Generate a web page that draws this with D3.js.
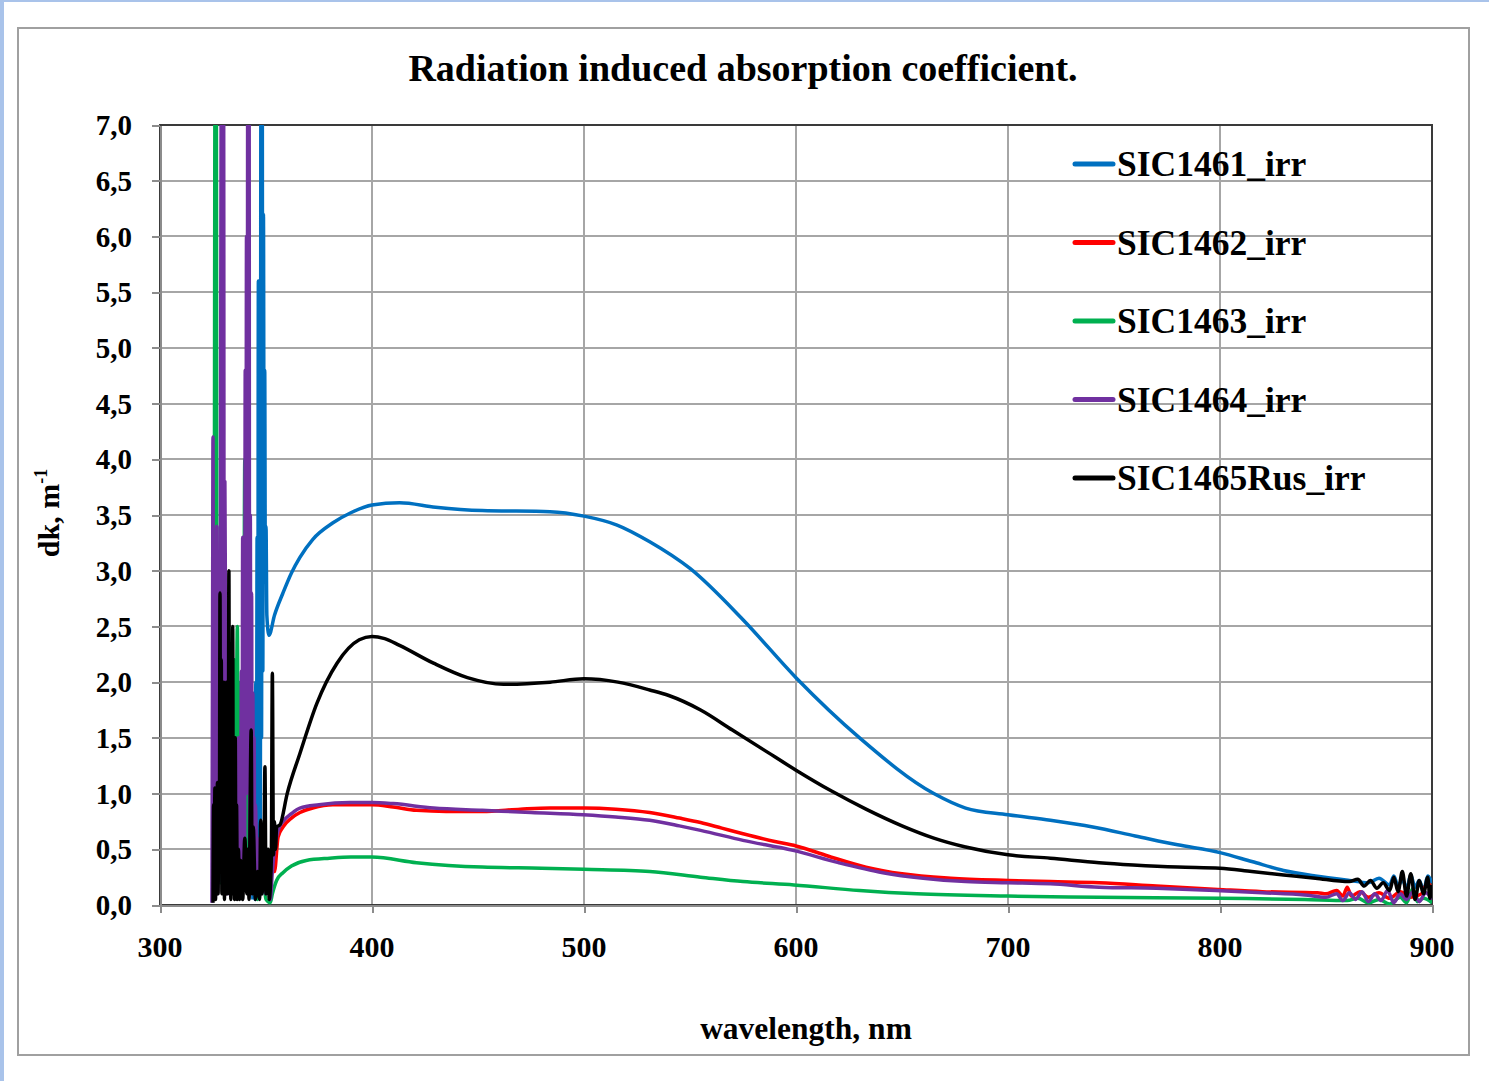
<!DOCTYPE html>
<meta charset="utf-8">
<style>
body { margin: 0; background: #fff; }
text { font-family: "Liberation Serif", "Times New Roman", serif; font-weight: bold; fill: #000; }
.grid line { stroke: #a6a6a6; stroke-width: 2; shape-rendering: crispEdges; }
.axis path, .axis line { stroke: #8c8c8c; stroke-width: 2; shape-rendering: crispEdges; }
</style>
<body>
<script src="https://d3js.org/d3.v7.min.js"></script>
<script>

// chart values (wavelength nm, dk m^-1)
var seriesNames = ["SIC1461_irr", "SIC1462_irr", "SIC1463_irr", "SIC1464_irr", "SIC1465Rus_irr"];
var seriesColors = ["#0070c0", "#ff0000", "#00b050", "#7030a0", "#000000"];

var sic1461 = [[343.8,0.05],[344,1.9],[344.3,0.1],[344.6,1.1],[344.9,0.05],[345.2,2.0],[345.5,0.2],[345.8,3.3],[346.1,0.3],
  [346.4,5.6],[346.7,0.8],[347,4.5],[347.3,0.4],[347.6,7.5],[347.9,1.5],[348.2,8],[348.5,2.1],[348.8,6.2],[349.1,3.6],
  [349.4,4.8],[349.7,2.9],[350,3.4],[350.4,2.6],[351.4,2.42],[354,2.6],[358,2.8],[362,2.98],[366,3.12],[372,3.28],[381.6,3.43],
  [390,3.52],[400,3.59],[413,3.61],[430,3.57],[452,3.54],[484,3.53],[500,3.49],[515.6,3.41],[531,3.26],[550,3.02],
  [575,2.56],[600,2.04],[630,1.5],[665,1.0],[680,0.87],[700,0.81],[720,0.76],[740,0.7],[760,0.62],[780,0.54],[800,0.47],
  [815,0.39],[830,0.31],[845,0.26],[861,0.22],[870,0.2],[875,0.24],[880,0.18],[882,0.26],[884,0.17],[886,0.23],[888,0.15],
  [890,0.27],[892,0.16],[894,0.22],[896,0.13],[898,0.26],[900,0.2]];

var sic1462 = [[350,0.1],[351,0.35],[352,0.1],[353,0.45],[354,0.3],[355.7,0.61],[358,0.7],[362,0.78],[366,0.83],[372,0.87],
  [381.6,0.9],[400,0.9],[410,0.88],[421,0.85],[435,0.84],[452,0.84],[470,0.86],[484,0.87],[500,0.87],[515,0.86],
  [531,0.83],[545,0.78],[555,0.74],[565,0.69],[575,0.64],[590,0.57],[600,0.53],[615,0.44],[633,0.34],[650,0.28],[673,0.24],
  [700,0.22],[720,0.21],[743,0.2],[770,0.17],[799,0.14],[820,0.12],[846,0.11],[850,0.1],[855,0.13],[858,0.08],[860,0.16],
  [862,0.08],[866,0.12],[870,0.07],[875,0.11],[880,0.06],[885,0.12],[890,0.07],[895,0.1],[898,0.2],[900,0.12]];

var sic1463 = [[325,0.05],[325.5,1.5],[326,8],[326.5,8],[327,0.5],[328,2.6],[328.5,0.2],[329,1.5],[330,0.3],[331,2.0],[332,0.2],
  [333,1.2],[334,0.3],[335,2.2],[335.5,0.4],[336.5,2.5],[337,0.6],[338,2.0],[339,0.3],[339.5,1.8],[340,4.0],[340.5,0.5],
  [341,1.4],[342,0.2],[343,0.9],[344,0.1],[345,0.6],[346,0.05],[348,0.4],[350,0.05],[352,0.02],[353,0.1],[355,0.22],[358,0.29],
  [362,0.35],[369,0.4],[380,0.42],[390,0.43],[400,0.43],[421,0.38],[452,0.34],[480,0.33],[500,0.32],[531,0.3],[555,0.25],
  [575,0.21],[599,0.18],[630,0.13],[657,0.1],[700,0.08],[743,0.07],[800,0.06],[840,0.05],[860,0.04],[865,0.06],[870,0.02],
  [875,0.05],[880,0.01],[885,0.07],[888,0.02],[891,0.15],[893,0.03],[896,0.06],[900,0.02]];

var sic1464 = [[324.5,0.02],[324.8,2.4],[325,4.2],[325.3,0.5],[325.6,3.0],[325.9,0.2],[326.2,2.5],[326.5,0.3],[326.8,3.4],
  [327.1,0.1],[327.4,1.8],[327.7,0.2],[328,3.1],[328.3,0.6],[328.6,4.6],[329,8],[329.3,0.4],[329.6,5.2],[330,7.5],[330.3,1.2],
  [330.6,3.8],[331,2.2],[331.3,0.1],[331.6,1.6],[332,0.8],[332.5,0.1],[333,0.6],[334,0.2],[335,1.0],[336,0.3],[337,1.5],
  [338,0.4],[338.4,2.1],[338.7,0.3],[339,3.3],[339.3,0.6],[339.6,2.5],[339.9,0.2],[340.2,4.8],[340.5,1.0],[340.8,6.0],
  [341.1,1.2],[341.4,8],[341.7,1.0],[342,8],[342.3,0.4],[342.6,3.5],[342.9,0.2],[343.2,2.8],[343.5,0.1],[343.8,1.9],
  [344.1,0.2],[344.4,1.5],[344.7,0.1],[345,0.9],[346,0.1],[347,0.6],[348,0.1],[349,0.5],[350,0.1],[351,0.4],[352,0.05],
  [353,0.3],[354,0.5],[355.7,0.67],[358,0.75],[362,0.82],[366,0.87],[375,0.9],[389.6,0.92],[400,0.92],[410,0.91],[429,0.87],
  [452,0.85],[475,0.83],[499.6,0.81],[515,0.79],[531,0.76],[545,0.71],[555,0.67],[575,0.58],[598.6,0.49],[620,0.38],[641,0.29],
  [660,0.24],[680,0.21],[700,0.2],[720,0.19],[743,0.16],[770,0.15],[798,0.13],[820,0.11],[840,0.09],[850,0.07],[855,0.1],
  [858,0.04],[861,0.11],[864,0.05],[867,0.12],[870,0.03],[873,0.1],[876,0.04],[879,0.13],[882,0.02],[885,0.1],[888,0.05],
  [891,0.12],[894,0.03],[897,0.11],[900,0.05]];

var sic1465 = [[325,0.02],[325.3,0.9],[325.6,0.1],[325.9,1.05],[326.2,0.05],[326.5,1.0],[326.8,0.2],[327.1,1.1],[327.4,0.1],
  [327.7,0.95],[328,0.4],[328.3,2.8],[328.6,0.3],[328.9,2.2],[329.2,0.1],[329.5,1.6],[329.8,0.2],[330.1,2.0],[330.4,0.05],
  [330.7,1.4],[331,0.2],[331.3,2.0],[331.6,0.1],[331.9,1.2],[332.2,0.6],[332.5,3.0],[332.8,0.1],[333.1,2.2],[333.4,0.05],
  [333.7,1.0],[334,0.5],[334.3,2.5],[334.6,0.1],[334.9,1.1],[335.2,0.05],[335.5,1.5],[335.8,0.1],[336.1,0.9],[336.5,0.05],
  [337,0.5],[337.5,0.05],[338,0.4],[339,0.05],[340,0.6],[341,0.1],[341.5,0.5],[342,0.05],[343,1.57],[343.5,0.1],[344,0.7],
  [345,0.05],[346,0.3],[347,0.05],[347.5,0.76],[348,0.1],[349,0.4],[349.5,1.24],[350,0.1],[351,0.5],[351.5,0.05],[352.5,0.4],
  [353,2.08],[353.5,0.45],[354,0.75],[354.5,0.5],[355,0.7],[356.6,0.72],[360,1.0],[366,1.36],[374,1.81],[383.5,2.17],
  [394,2.38],[400,2.41],[406,2.39],[413,2.33],[429,2.17],[445,2.04],[462,1.98],[484,2.0],[500,2.03],[516,2.0],
  [531,1.93],[540,1.88],[555,1.75],[570,1.57],[585,1.39],[600,1.21],[617,1.02],[633,0.86],[650,0.71],[665,0.6],[680,0.52],
  [700,0.45],[720,0.42],[743,0.38],[759,0.36],[780,0.34],[800,0.33],[815,0.3],[830,0.27],[845,0.24],[861,0.21],[865,0.23],
  [868,0.17],[871,0.22],[874,0.15],[877,0.2],[880,0.13],[882,0.25],[884,0.12],[886,0.3],[888,0.08],[890,0.28],
  [892,0.05],[894,0.22],[896,0.1],[898,0.25],[899,0.06],[900,0.18]];

var xTicks = [300, 400, 500, 600, 700, 800, 900];
var yTicks = [0, 0.5, 1, 1.5, 2, 2.5, 3, 3.5, 4, 4.5, 5, 5.5, 6, 6.5, 7];
var yTickLabels = ["0,0","0,5","1,0","1,5","2,0","2,5","3,0","3,5","4,0","4,5","5,0","5,5","6,0","6,5","7,0"];

var seriesData = [sic1461, sic1462, sic1463, sic1464, sic1465];

// sizes
var W = 1489, H = 1081;
var plot = {left: 160, right: 1432, top: 125, bottom: 905};

var svg = d3.select("body").append("svg")
  .attr("width", W).attr("height", H);

// slide frame strips
svg.append("rect").attr("x", 0).attr("y", 0).attr("width", 4).attr("height", H).attr("fill", "#a9c3ea");
svg.append("rect").attr("x", 0).attr("y", 0).attr("width", W).attr("height", 2).attr("fill", "#a9c3ea");

// chart border
svg.append("rect")
  .attr("x", 18).attr("y", 28).attr("width", 1451).attr("height", 1027)
  .attr("fill", "#fff").attr("stroke", "#a0a0a0").attr("stroke-width", 2);

var x = d3.scaleLinear().domain([300, 900]).range([plot.left, plot.right]);
var y = d3.scaleLinear().domain([0, 7]).range([plot.bottom, plot.top]);

// grid
svg.append("g").attr("class", "grid")
  .selectAll("line").data(yTicks.slice(1)).join("line")
  .attr("x1", plot.left).attr("x2", plot.right)
  .attr("y1", d => Math.round(y(d))).attr("y2", d => Math.round(y(d)));
svg.append("g").attr("class", "grid")
  .selectAll("line").data(xTicks.slice(1, -1)).join("line")
  .attr("y1", plot.top).attr("y2", plot.bottom)
  .attr("x1", d => Math.round(x(d))).attr("x2", d => Math.round(x(d)));

// plot area border (dark top / right)
svg.append("rect")
  .attr("x", plot.left).attr("y", plot.top)
  .attr("width", plot.right - plot.left).attr("height", plot.bottom - plot.top)
  .attr("fill", "none").attr("stroke", "#3a3a3a").attr("stroke-width", 2);

// axes
svg.append("g").attr("class", "axis")
  .attr("transform", "translate(0," + plot.bottom + ")")
  .call(d3.axisBottom(x).tickValues(xTicks).tickSize(8).tickSizeOuter(0).tickFormat(""));
svg.append("g").attr("class", "axis")
  .attr("transform", "translate(" + plot.left + ",0)")
  .call(d3.axisLeft(y).tickValues(yTicks).tickSize(8).tickSizeOuter(0).tickFormat(""));

svg.append("g").selectAll("text").data(xTicks).join("text")
  .attr("x", d => x(d)).attr("y", 957)
  .attr("text-anchor", "middle").attr("font-size", 30)
  .text(d => d);

svg.append("g").selectAll("text").data(yTicks).join("text")
  .attr("x", 132).attr("y", d => y(d))
  .attr("dy", "0.35em")
  .attr("text-anchor", "end").attr("font-size", 29)
  .text((d, i) => yTickLabels[i]);

// titles
svg.append("text")
  .attr("x", 743).attr("y", 81)
  .attr("text-anchor", "middle").attr("font-size", 38)
  .text("Radiation induced absorption coefficient.");

svg.append("text")
  .attr("x", 806).attr("y", 1039)
  .attr("text-anchor", "middle").attr("font-size", 31.5)
  .text("wavelength, nm");

var yt = svg.append("text")
  .attr("transform", "translate(59,513) rotate(-90)")
  .attr("text-anchor", "middle").attr("font-size", 30);
yt.append("tspan").text("dk, m");
yt.append("tspan").attr("font-size", 18).attr("dy", -12).text("-1");

// series
svg.append("clipPath").attr("id", "clip")
  .append("rect")
  .attr("x", plot.left).attr("y", plot.top)
  .attr("width", plot.right - plot.left).attr("height", plot.bottom - plot.top);

var line = d3.line().curve(d3.curveMonotoneX).x(d => x(d[0])).y(d => y(d[1]));

svg.append("g").attr("clip-path", "url(#clip)")
  .selectAll("path").data(seriesData).join("path")
  .attr("d", line)
  .attr("fill", "none")
  .attr("stroke", (d, i) => seriesColors[i])
  .attr("stroke-width", 3.5)
  .attr("stroke-linejoin", "round");

// legend
var legend = svg.append("g").selectAll("g").data(seriesNames).join("g")
  .attr("transform", (d, i) => "translate(1073," + (164 + i * 78.5) + ")");
legend.append("line")
  .attr("x1", 2).attr("x2", 40)
  .attr("stroke", (d, i) => seriesColors[i])
  .attr("stroke-width", 5).attr("stroke-linecap", "round");
legend.append("text")
  .attr("x", 44).attr("y", 12)
  .attr("font-size", 35.5)
  .text(d => d);

</script>
</body>
